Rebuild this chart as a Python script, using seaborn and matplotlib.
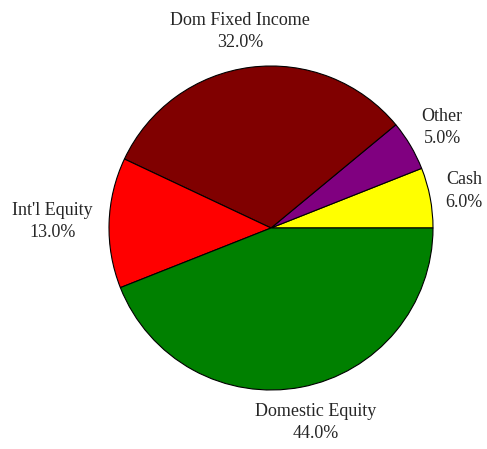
import numpy as np
import matplotlib
matplotlib.use("Agg")
import matplotlib.pyplot as plt
from matplotlib.transforms import offset_copy
import seaborn as sns

# Allocation data, counter-clockwise from 3 o'clock
categories = ["Cash", "Other", "Dom Fixed Income", "Int'l Equity", "Domestic Equity"]
shares = [6.0, 5.0, 32.0, 13.0, 44.0]
colors = ["#ffff00", "#800080", "#800000", "#ff0000", "#008000"]

sns.set_style("white")
plt.rcParams["font.family"] = ["Liberation Serif", "DejaVu Serif"]

fig = plt.figure(figsize=(4.87, 4.49), dpi=100)
ax = fig.add_axes([0, 0, 1, 1])

wedges, _ = ax.pie(shares, colors=colors, startangle=0, counterclock=True,
                   radius=1.0, wedgeprops=dict(edgecolor="black", linewidth=0.8))

ax.set_xlim(-271 / 162, 216 / 162)
ax.set_ylim(-221 / 162, 228 / 162)
ax.set_aspect("auto")
ax.axis("off")

# first pass: centred labels, so their sizes can be measured
texts = []
for w, name, val in zip(wedges, categories, shares):
    ang = np.deg2rad((w.theta1 + w.theta2) / 2)
    c, s = np.cos(ang), np.sin(ang)
    t = ax.text(1.10 * c, 1.10 * s, f"{name}\n{val:.1f}%", ha="center", va="center",
                multialignment="center", fontsize=13, linespacing=1.4)
    texts.append((t, c, s))

fig.canvas.draw()
renderer = fig.canvas.get_renderer()
# push each label outwards by a fraction of its own size
for t, c, s in texts:
    bb = t.get_window_extent(renderer)
    dx = c * bb.width / 2 * 72 / fig.dpi
    dy = s * bb.height / 2 * 72 / fig.dpi
    t.set_transform(offset_copy(ax.transData, fig=fig, x=dx, y=dy, units="points"))

fig.savefig("out.png", dpi=100, facecolor="white")
